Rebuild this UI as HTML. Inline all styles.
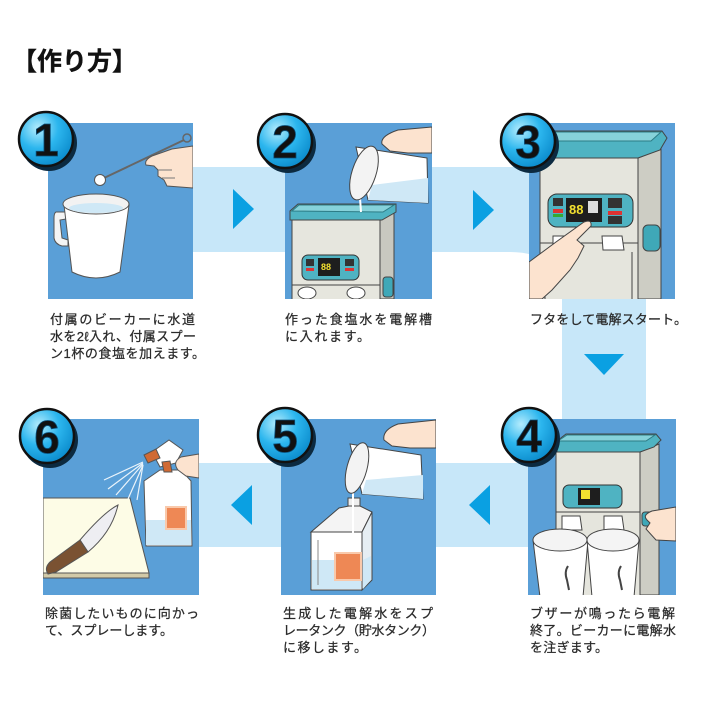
<!DOCTYPE html>
<html><head><meta charset="utf-8"><style>
html,body{margin:0;padding:0;background:#fff;}
svg{display:block;}
.cap{font-family:"Liberation Sans","Noto Sans CJK JP",sans-serif;font-size:13px;fill:#2a2a2a;stroke:#2a2a2a;stroke-width:0.25;}
.num{font-family:"Liberation Sans",sans-serif;font-weight:bold;font-size:46px;fill:#111;stroke:#0b4f7a;stroke-width:0.8;}
</style></head><body>
<svg width="720" height="720" viewBox="0 0 720 720" xmlns="http://www.w3.org/2000/svg">
<defs>
<radialGradient id="bg" cx="35%" cy="30%" r="75%">
<stop offset="0" stop-color="#b4ecfd"/><stop offset="0.5" stop-color="#2cb6ee"/><stop offset="1" stop-color="#0a8acb"/>
</radialGradient>
<clipPath id="c1"><rect x="48" y="123" width="145" height="176"/></clipPath>
<clipPath id="c2"><rect x="285" y="123" width="147" height="176"/></clipPath>
<clipPath id="c3"><rect x="529" y="123" width="146" height="176"/></clipPath>
<clipPath id="c4"><rect x="528" y="419" width="148" height="176"/></clipPath>
<clipPath id="c5"><rect x="281" y="419" width="155" height="176"/></clipPath>
<clipPath id="c6"><rect x="43" y="419" width="156" height="176"/></clipPath>
</defs>

<!-- title -->
<text x="12" y="70" font-family="'Liberation Sans','Noto Sans CJK JP',sans-serif" font-size="25" font-weight="bold" fill="#111" stroke="#111" stroke-width="0.4">【作り方】</text>

<!-- bands -->
<g fill="#c7e7f9">
<rect x="190" y="167" width="456" height="85"/>
<rect x="562" y="167" width="84" height="380"/>
<rect x="196" y="463" width="450" height="84"/>
<path d="M510,252 Q562,252 562,300 L562,252 Z"/>
</g>

<!-- arrows -->
<g fill="#0aa0e2">
<polygon points="233,189 254,209 233,229"/>
<polygon points="473,190 494,210 473,230"/>
<polygon points="584,354 624,354 604,375"/>
<polygon points="490,485 469,505 490,525"/>
<polygon points="252,485 231,505 252,525"/>
</g>

<!-- panels -->
<g fill="#5a9fd7">
<rect x="48" y="123" width="145" height="176"/>
<rect x="285" y="123" width="147" height="176"/>
<rect x="529" y="123" width="146" height="176"/>
<rect x="528" y="419" width="148" height="176"/>
<rect x="281" y="419" width="155" height="176"/>
<rect x="43" y="419" width="156" height="176"/>
</g>

<!-- Panel 1 -->
<g clip-path="url(#c1)" stroke="#555" stroke-width="1">
<path d="M66,212 L56,212 Q54,213 54,218 L54,238 Q55,244 62,246 L68,246 L68,240 L62,238 L60,220 L66,219 Z" fill="#f4f4f4"/>
<path d="M64,205 L72,272 Q96,284 120,272 L129,205 Z" fill="#fff"/>
<ellipse cx="96" cy="204" rx="33" ry="10" fill="#f2f2f2"/>
<ellipse cx="96" cy="208" rx="27" ry="5" fill="#cfe8f6" stroke="none"/>
<line x1="104" y1="178" x2="184" y2="140" stroke="#666" stroke-width="2"/>
<circle cx="187" cy="138" r="4" fill="none" stroke="#666" stroke-width="1.5"/>
<circle cx="100" cy="180" r="5.5" fill="#fff"/>
<path d="M193,146 L172,149 L152,156 Q144,160 146,165 L154,166 L158,170 L158,176 L164,180 L167,186 L193,188 Z" fill="#fce3cf"/>
<path d="M158,170 L172,170 M162,178 L175,178" fill="none" stroke="#777"/>
</g>

<!-- Panel 2 -->
<g clip-path="url(#c2)" stroke="#444" stroke-width="1">
<polygon points="380,219 394,211 394,299 380,299" fill="#c8c8c0"/>
<rect x="292" y="219" width="88" height="82" fill="#e6e6de"/>
<path d="M290,211 L298,204 L396,204 L396,212 L382,220 L290,220 Z" fill="#4fb3c2"/>
<path d="M292,211 L299,205 L394,205 L383,212 Z" fill="#86d2da" stroke="#2d7c86"/>
<rect x="302" y="255" width="57" height="25" rx="6" fill="#4fb3c2" stroke="#333"/>
<rect x="318" y="258" width="22" height="18" fill="#1e1e1e" stroke="none"/>
<text x="321" y="270" font-family="Liberation Sans,sans-serif" font-size="9" font-weight="bold" fill="#f2e030" stroke="none">88</text>
<rect x="306" y="259" width="8" height="7" fill="#333" stroke="none"/>
<rect x="306" y="268" width="8" height="3" fill="#d33" stroke="none"/>
<rect x="345" y="259" width="9" height="7" fill="#333" stroke="none"/>
<rect x="345" y="268" width="9" height="3" fill="#d33" stroke="none"/>
<line x1="292" y1="285" x2="380" y2="285"/>
<ellipse cx="307" cy="293" rx="9" ry="6" fill="#fff"/>
<ellipse cx="356" cy="293" rx="9" ry="6" fill="#fff"/>
<rect x="383" y="277" width="10" height="20" rx="3" fill="#3fa8b8"/>
<line x1="360" y1="198" x2="361" y2="212" stroke="#fff" stroke-width="2"/>
<path d="M356,147 L427,158 L428,203 L368,200 Z" fill="#fff"/>
<path d="M372,185 L428,178 L428,203 L368,200 Z" fill="#cfe8f6" stroke="none"/>
<ellipse cx="364" cy="173" rx="12" ry="28" transform="rotate(18 364 173)" fill="#f3f3f3"/>
<path d="M432,127 L398,130 Q380,136 382,144 L390,151 L408,153 L432,153 Z" fill="#fce3cf"/>
</g>

<!-- Panel 3 -->
<g clip-path="url(#c3)" stroke="#444" stroke-width="1">
<polygon points="638,158 661,149 661,299 638,299" fill="#cdcdc4"/>
<rect x="540" y="157" width="98" height="144" fill="#e5e5dd"/>
<path d="M537,141 L548,131 L662,131 L667,138 L660,150 L638,158 L537,158 Z" fill="#4fb3c2"/>
<path d="M538,141 L549,132 L661,132 L651,141 Z" fill="#86d2da" stroke="#2d7c86"/>
<rect x="548" y="194" width="85" height="33" rx="9" fill="#4fb3c2" stroke="#333"/>
<rect x="566" y="198" width="36" height="24" fill="#1e1e1e" stroke="none"/>
<text x="569" y="214" font-family="Liberation Sans,sans-serif" font-size="13" font-weight="bold" fill="#f2e030" stroke="none">88</text>
<rect x="588" y="201" width="10" height="12" fill="#ddd" stroke="none"/>
<rect x="553" y="198" width="10" height="8" fill="#333" stroke="none"/>
<rect x="553" y="209" width="10" height="4" fill="#d33" stroke="none"/>
<rect x="553" y="214" width="10" height="3" fill="#3a3" stroke="none"/>
<rect x="608" y="198" width="14" height="10" fill="#333" stroke="none"/>
<rect x="608" y="211" width="14" height="4" fill="#d33" stroke="none"/>
<rect x="608" y="216" width="14" height="8" fill="#333" stroke="none"/>
<line x1="540" y1="243" x2="638" y2="243"/>
<path d="M553,236 L572,236 L574,248 L553,250 Z" fill="#fff"/>
<path d="M602,236 L622,236 L624,250 L603,250 Z" fill="#fff"/>
<line x1="545" y1="252" x2="545" y2="299"/>
<line x1="632" y1="252" x2="632" y2="299"/>
<rect x="643" y="225" width="17" height="26" rx="5" fill="#3fa8b8"/>
<path d="M529,262 L556,242 L584,222 Q592,219 591,226 L577,240 L584,246 L578,258 L570,270 L552,290 L542,299 L529,299 Z" fill="#fce3cf"/>
</g>

<!-- Panel 4 -->
<g clip-path="url(#c4)" stroke="#444" stroke-width="1">
<polygon points="640,452 659,444 659,595 640,595" fill="#cdcdc4"/>
<rect x="556" y="451" width="84" height="146" fill="#e5e5dd"/>
<path d="M557,441 L566,434 L656,434 L661,440 L654,447 L640,452 L557,452 Z" fill="#4fb3c2"/>
<path d="M558,441 L567,435 L655,435 L646,441 Z" fill="#86d2da" stroke="#2d7c86"/>
<rect x="563" y="485" width="59" height="23" rx="6" fill="#4fb3c2" stroke="#333"/>
<rect x="578" y="488" width="22" height="17" fill="#1e1e1e" stroke="none"/>
<rect x="581" y="490" width="9" height="9" fill="#f2e030" stroke="none"/>
<line x1="556" y1="512" x2="640" y2="512"/>
<path d="M562,516 L580,516 L582,530 L562,530 Z" fill="#fff"/>
<path d="M604,516 L622,516 L624,530 L604,530 Z" fill="#fff"/>
<rect x="642" y="512" width="12" height="14" rx="3" fill="#3fa8b8"/>
<line x1="570" y1="530" x2="570" y2="560" stroke="#9cd0ee" stroke-width="2"/>
<line x1="613" y1="530" x2="613" y2="560" stroke="#9cd0ee" stroke-width="2"/>
<path d="M533,540 L540,597 L583,597 L588,540 Z" fill="#fff"/>
<ellipse cx="560" cy="540" rx="27" ry="11" fill="#f4f4f4"/>
<path d="M587,540 L592,597 L634,597 L639,540 Z" fill="#fff"/>
<ellipse cx="613" cy="540" rx="26" ry="11" fill="#f4f4f4"/>
<path d="M568,566 Q564,572 567,580 L569,590" fill="none" stroke-width="2"/>
<path d="M621,566 Q617,572 620,580 L622,590" fill="none" stroke-width="2"/>
<path d="M676,507 L652,511 Q642,515 647,520 L650,523 L646,529 L656,540 L676,541 Z" fill="#fce3cf"/>
</g>

<!-- Panel 5 -->
<g clip-path="url(#c5)" stroke="#444" stroke-width="1">
<path d="M311,532 L339,508 L349,506 L360,506 L372,512 L362,532 Z" fill="#f4f4f4"/>
<path d="M362,532 L372,512 L372,580 L362,590 Z" fill="#e6eef3"/>
<rect x="311" y="532" width="51" height="58" fill="#fff"/>
<rect x="312" y="560" width="49" height="29" fill="#cfe8f6" stroke="none"/>
<polygon points="363,560 371,556 371,580 363,589" fill="#cfe8f6" stroke="none"/>
<rect x="335" y="553" width="26" height="27" fill="#ee8855" stroke="#f9c9ab" stroke-width="2"/>
<rect x="348" y="498" width="12" height="8" fill="#eee"/>
<line x1="318" y1="540" x2="318" y2="585" stroke="#888"/>
<line x1="353" y1="493" x2="353" y2="540" stroke="#fff" stroke-width="2"/>
<path d="M350,444 L421,455 L423,499 L362,494 Z" fill="#fff"/>
<path d="M366,480 L423,475 L423,499 L362,494 Z" fill="#cfe8f6" stroke="none"/>
<ellipse cx="357" cy="468" rx="10" ry="26" transform="rotate(15 357 468)" fill="#f3f3f3"/>
<path d="M436,420 L398,424 Q382,430 384,440 L392,446 L410,448 L436,448 Z" fill="#fce3cf"/>
</g>

<!-- Panel 6 -->
<g clip-path="url(#c6)" stroke="#555" stroke-width="1">
<polygon points="43,498 130,498 149,573 43,573" fill="#fdfce6"/>
<polygon points="43,573 149,573 149,578 43,578" fill="#d2caa8"/>
<path d="M118,505 Q104,512 80,540 L88,552 Q112,532 118,505 Z" fill="#eeeef2"/>
<path d="M80,540 L50,562 Q44,568 48,574 L56,572 L88,552 Z" fill="#7a5232"/>
<path d="M144,481 L160,470 L181,470 L191,481 L192,546 L146,546 Z" fill="#fff"/>
<rect x="146" y="520" width="45" height="25" fill="#cfe8f6" stroke="none"/>
<rect x="166" y="507" width="20" height="22" fill="#ee8855" stroke="#f9c9ab" stroke-width="2"/>
<path d="M152,452 L169,440 L183,450 L176,463 L160,467 Z" fill="#fff"/>
<path d="M144,455 L156,449 L160,458 L148,463 Z" fill="#d06a34"/>
<path d="M162,462 L170,461 L172,472 L164,472 Z" fill="#d06a34"/>
<path d="M199,454 L181,457 Q172,462 178,470 L186,476 L199,478 Z" fill="#fce3cf"/>
<g stroke="#eaf4fb" stroke-width="1.2">
<line x1="143" y1="462" x2="104" y2="480"/>
<line x1="143" y1="463" x2="108" y2="489"/>
<line x1="143" y1="464" x2="116" y2="495"/>
<line x1="143" y1="465" x2="128" y2="499"/>
<line x1="143" y1="465" x2="137" y2="500"/>
</g>
</g>

<!-- badges -->
<g>
<circle cx="49" cy="143" r="28" fill="#0c2a40"/>
<circle cx="46" cy="139" r="27" fill="url(#bg)" stroke="#111" stroke-width="2.5"/>
<text class="num" x="46" y="156" text-anchor="middle">1</text>

<circle cx="288" cy="145" r="28" fill="#0c2a40"/>
<circle cx="285" cy="141" r="27" fill="url(#bg)" stroke="#111" stroke-width="2.5"/>
<text class="num" x="285" y="158" text-anchor="middle">2</text>

<circle cx="531" cy="145" r="28" fill="#0c2a40"/>
<circle cx="528" cy="141" r="27" fill="url(#bg)" stroke="#111" stroke-width="2.5"/>
<text class="num" x="528" y="158" text-anchor="middle">3</text>

<circle cx="532" cy="439" r="28" fill="#0c2a40"/>
<circle cx="529" cy="435" r="27" fill="url(#bg)" stroke="#111" stroke-width="2.5"/>
<text class="num" x="529" y="452" text-anchor="middle">4</text>

<circle cx="288" cy="439" r="28" fill="#0c2a40"/>
<circle cx="285" cy="435" r="27" fill="url(#bg)" stroke="#111" stroke-width="2.5"/>
<text class="num" x="285" y="452" text-anchor="middle">5</text>

<circle cx="50" cy="440" r="28" fill="#0c2a40"/>
<circle cx="47" cy="436" r="27" fill="url(#bg)" stroke="#111" stroke-width="2.5"/>
<text class="num" x="47" y="453" text-anchor="middle">6</text>
</g>

<!-- captions -->
<g class="cap">
<text x="50" y="324" textLength="145" lengthAdjust="spacing">付属のビーカーに水道</text>
<text x="50" y="341" textLength="146" lengthAdjust="spacing">水を2ℓ入れ、付属スプー</text>
<text x="50" y="358" textLength="155" lengthAdjust="spacing">ン1杯の食塩を加えます。</text>

<text x="285" y="324" textLength="147" lengthAdjust="spacing">作った食塩水を電解槽</text>
<text x="285" y="341" textLength="85" lengthAdjust="spacing">に入れます。</text>

<text x="530" y="324" textLength="157" lengthAdjust="spacing">フタをして電解スタート。</text>

<text x="530" y="618" textLength="145" lengthAdjust="spacing">ブザーが鳴ったら電解</text>
<text x="530" y="635" textLength="146" lengthAdjust="spacing">終了。ビーカーに電解水</text>
<text x="530" y="652" textLength="78" lengthAdjust="spacing">を注ぎます。</text>

<text x="283" y="618" textLength="150" lengthAdjust="spacing">生成した電解水をスプ</text>
<text x="283" y="635" textLength="152" lengthAdjust="spacing">レータンク（貯水タンク）</text>
<text x="283" y="652" textLength="84" lengthAdjust="spacing">に移します。</text>

<text x="45" y="618" textLength="154" lengthAdjust="spacing">除菌したいものに向かっ</text>
<text x="45" y="635" textLength="128" lengthAdjust="spacing">て、スプレーします。</text>
</g>
</svg>
</body></html>
